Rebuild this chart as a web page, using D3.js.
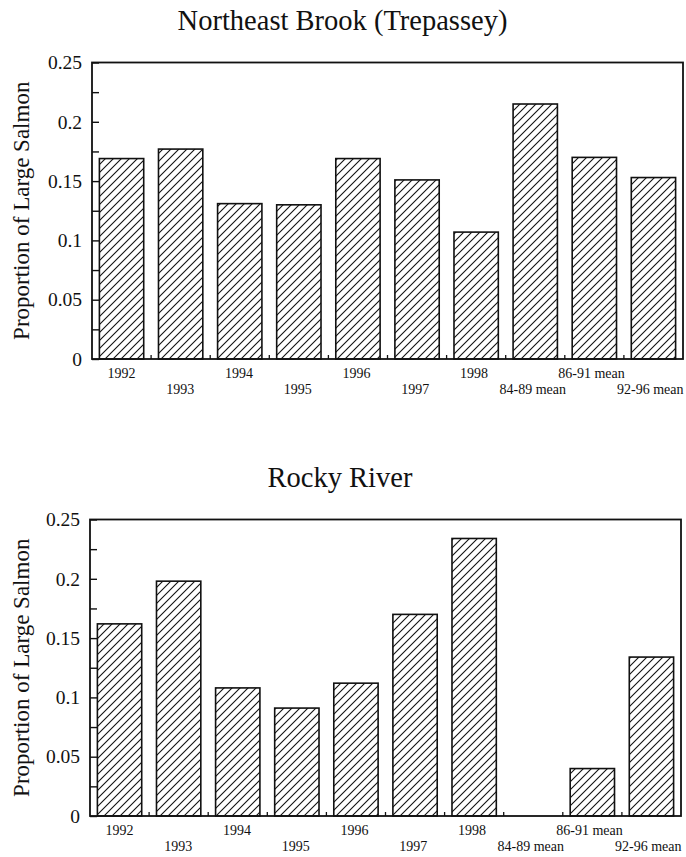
<!DOCTYPE html>
<html><head><meta charset="utf-8">
<script src="https://cdn.jsdelivr.net/npm/d3@7"></script>
<style>body{margin:0;background:#fff}svg{display:block}</style>
</head><body>
<script>
const categories = ["1992","1993","1994","1995","1996","1997","1998","84-89 mean","86-91 mean","92-96 mean"];
const northeastValues = [0.169,0.177,0.131,0.130,0.169,0.151,0.107,0.215,0.170,0.153];
const rockyValues = [0.162,0.198,0.108,0.091,0.112,0.170,0.234,null,0.040,0.134];
const yTickValues = [0,0.05,0.1,0.15,0.2,0.25];
const yMinorTicks = d3.range(0,0.2501,0.025);
const titles = ["Northeast Brook (Trepassey)","Rocky River"];
const yLabel = "Proportion of Large Salmon";

const W=686,H=857;
const svg=d3.select("body").append("svg").attr("width",W).attr("height",H);
const defs=svg.append("defs");
const pat=defs.append("pattern").attr("id","hatch").attr("patternUnits","userSpaceOnUse")
  .attr("width",8).attr("height",8);
pat.append("rect").attr("width",8).attr("height",8).attr("fill","#fff");
pat.append("path").attr("d","M0,8L8,0M-2,2L2,-2M6,10L10,6").attr("stroke","#111").attr("stroke-width",1.1);

const font="'Liberation Serif','Times New Roman',serif";

function panel(cfg){
  const {left,right,top,bottom,values,title,titleX,titleY}=cfg;
  const g=svg.append("g");
  const x=d3.scaleBand().domain(categories).range([left,right]).paddingInner(0.25).paddingOuter(0.125);
  const y=d3.scaleLinear().domain([0,0.25]).range([bottom,top]);
  g.append("text").attr("x",titleX).attr("y",titleY).attr("text-anchor","middle")
    .attr("font-family",font).attr("font-size",28.5).attr("fill","#111").text(title);
  // bars
  g.selectAll("rect.bar").data(categories.map((c,i)=>({c,v:values[i]})).filter(d=>d.v!=null))
    .enter().append("rect").attr("class","bar")
    .attr("x",d=>x(d.c)).attr("width",x.bandwidth())
    .attr("y",d=>y(d.v)).attr("height",d=>y(0)-y(d.v))
    .attr("fill","url(#hatch)").attr("stroke","#111").attr("stroke-width",1.6);
  // frame
  g.append("rect").attr("x",left).attr("y",top).attr("width",right-left).attr("height",bottom-top)
    .attr("fill","none").attr("stroke","#111").attr("stroke-width",1.8);
  // y axis ticks (inward)
  const ya=d3.axisLeft(y).tickValues(yMinorTicks).tickSize(-7).tickFormat("");
  const yg=g.append("g").attr("transform",`translate(${left},0)`).call(ya);
  yg.select(".domain").remove();
  yg.selectAll("line").attr("stroke","#111").attr("stroke-width",1.4);
  const yl=d3.axisLeft(y).tickValues(yTickValues).tickSize(0).tickPadding(10).tickFormat(d=>d===0?"0":String(d));
  const ylg=g.append("g").attr("transform",`translate(${left},0)`).call(yl);
  ylg.select(".domain").remove();
  ylg.selectAll("text").attr("font-family",font).attr("font-size",19.5).attr("fill","#111");
  // x axis: small ticks at band boundaries
  const step=x.step();
  const bounds=categories.slice(1).map(c=>x(c)-x.paddingInner()*step/2);
  g.selectAll("line.xt").data(bounds).enter().append("line")
    .attr("x1",d=>d).attr("x2",d=>d).attr("y1",bottom).attr("y2",bottom-4)
    .attr("stroke","#111").attr("stroke-width",1.3);
  const xa=d3.axisBottom(x).tickSize(0).tickPadding(0);
  const xg=g.append("g").attr("transform",`translate(0,${bottom})`).call(xa);
  xg.select(".domain").remove();
  xg.selectAll("text").attr("font-family",font).attr("font-size",14).attr("fill","#111")
    .attr("dy",null).attr("y",(d,i)=>i%2===0?18.5:35).attr("x",(d,i)=>-0.35*i);
  // y label
  g.append("text").attr("transform",`translate(28.5,${(top+bottom)/2}) rotate(-90)`)
    .attr("text-anchor","middle").attr("font-family",font).attr("font-size",23).attr("fill","#111").text(yLabel);
}

panel({left:92,right:683,top:62.5,bottom:359,values:northeastValues,title:titles[0],titleX:342.5,titleY:30});
panel({left:90,right:681,top:519.5,bottom:816,values:rockyValues,title:titles[1],titleX:340,titleY:487});
</script>
</body></html>
